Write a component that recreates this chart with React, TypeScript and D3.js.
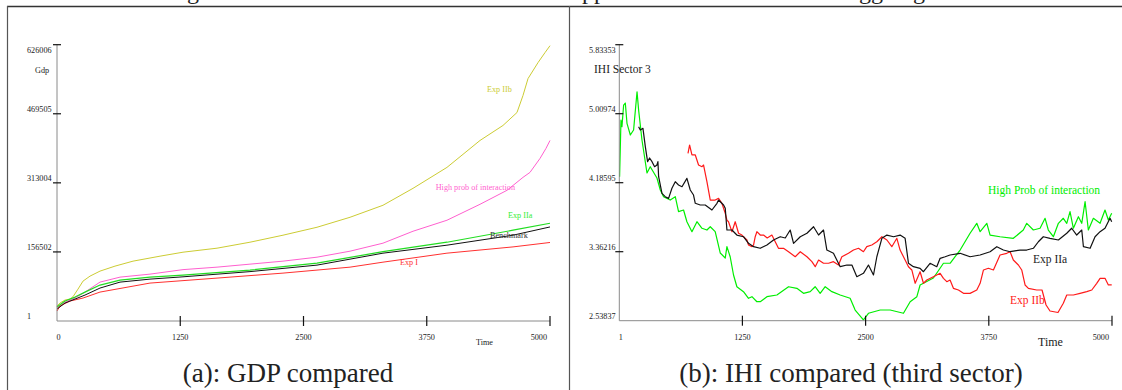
import React from 'react';
import * as d3 from 'd3';

// ---------- Panel (a): GDP ----------
const gdpXTicks = [0, 1250, 2500, 3750, 5000];
const gdpXTickLabels = ['0', '1250', '2500', '3750', '5000'];
const gdpYTicks = [1, 156502, 313004, 469505, 626006];
const gdpYTickLabels = ['1', '156502', '313004', '469505', '626006'];

const gdpExpIIb: [number, number][] = [
  [0, 33900], [30, 40700], [81, 47500], [132, 49700], [162, 54900], [213, 72300], [264, 90400],
  [335, 101700], [436, 113000], [588, 124300], [771, 135600], [1045, 146900], [1278, 155900],
  [1623, 165000], [1957, 178500], [2292, 194400], [2637, 212400], [2972, 235000], [3306, 262200],
  [3611, 300600], [3955, 348000], [4290, 409000], [4523, 443000], [4665, 472300], [4726, 510800],
  [4777, 549200], [4878, 585300], [4949, 608000], [5000, 623800],
];
const gdpHighProb: [number, number][] = [
  [0, 29400], [81, 42900], [183, 52000], [284, 65500], [436, 88100], [639, 99400], [943, 106200],
  [1278, 116400], [1623, 122000], [1957, 128800], [2292, 135600], [2637, 144600], [2972, 158200],
  [3306, 176300], [3611, 203400], [3955, 228300], [4290, 264400], [4564, 296100], [4726, 325400],
  [4797, 336700], [4899, 368400], [4959, 391000], [5000, 409000],
];
const gdpExpIIa: [number, number][] = [
  [0, 31600], [81, 45200], [183, 54200], [284, 65500], [436, 81400], [639, 92700], [943, 99400],
  [1278, 104000], [1957, 115300], [2637, 131100], [3306, 157100], [3955, 178500], [4625, 205700],
  [5000, 221500],
];
const gdpBenchmark: [number, number][] = [
  [0, 27100], [81, 40700], [183, 49700], [284, 58800], [436, 74600], [639, 88100], [943, 94900],
  [1278, 100100], [1957, 111900], [2637, 126600], [3306, 153700], [3955, 171800], [4625, 194400],
  [5000, 213100],
];
const gdpExpI: [number, number][] = [
  [0, 22600], [30, 33900], [132, 45200], [264, 52000], [436, 65500], [943, 85900], [1623, 97200],
  [2292, 108500], [2972, 122000], [3306, 133300], [3955, 153700], [4625, 167900], [5000, 177900],
];

// ---------- Panel (b): IHI sector 3 ----------
const ihiXTicks = [1, 1250, 2500, 3750, 5000];
const ihiXTickLabels = ['1', '1250', '2500', '3750', '5000'];
const ihiYTicks = [2.53837, 3.36216, 4.18595, 5.00974, 5.83353];
const ihiYTickLabels = ['2.53837', '3.36216', '4.18595', '5.00974', '5.83353'];

const ihiHighProb: [number, number][] = [
  [4, 4.258], [18, 4.934], [28, 4.855], [45, 5.113], [62, 5.137], [79, 4.895], [113, 4.755],
  [146, 4.815], [181, 5.272], [197, 5.054], [231, 4.696], [282, 4.302], [315, 4.377], [383, 4.242],
  [417, 4.099], [450, 4.019], [518, 3.979], [569, 4.019], [602, 3.84], [653, 3.86], [687, 3.72],
  [738, 3.601], [789, 3.72], [840, 3.642], [890, 3.621], [924, 3.66], [974, 3.601], [1025, 3.347],
  [1076, 3.287], [1093, 3.422], [1126, 3.302], [1160, 3.084], [1194, 2.944], [1261, 2.885],
  [1312, 2.806], [1347, 2.825], [1397, 2.765], [1431, 2.765], [1499, 2.825], [1600, 2.845],
  [1718, 2.944], [1803, 2.925], [1870, 2.865], [1938, 2.885], [1988, 2.944], [2039, 2.865],
  [2090, 2.944], [2158, 2.885], [2242, 2.845], [2343, 2.806], [2394, 2.666], [2478, 2.547],
  [2529, 2.627], [2648, 2.666], [2749, 2.666], [2884, 2.627], [2952, 2.765], [3020, 2.825],
  [3053, 2.965], [3188, 3.048], [3290, 3.224], [3357, 3.224], [3459, 3.382], [3560, 3.582],
  [3628, 3.701], [3662, 3.601], [3730, 3.701], [3763, 3.561], [3864, 3.541], [3999, 3.522],
  [4100, 3.621], [4135, 3.701], [4202, 3.621], [4270, 3.642], [4321, 3.761], [4354, 3.621],
  [4405, 3.541], [4456, 3.701], [4506, 3.761], [4541, 3.701], [4574, 3.84], [4608, 3.642],
  [4659, 3.78], [4693, 3.701], [4727, 3.959], [4760, 3.621], [4811, 3.761], [4879, 3.701],
  [4929, 3.86], [4963, 3.74], [4997, 3.82],
];
const ihiExpIIa: [number, number][] = [
  [197, 4.855], [214, 4.815], [241, 4.835], [265, 4.616], [288, 4.437], [308, 4.481], [333, 4.437],
  [359, 4.377], [383, 4.397], [393, 4.437], [400, 4.258], [434, 4.059], [467, 4.019], [501, 3.999],
  [535, 4.119], [569, 4.198], [602, 4.158], [637, 4.138], [687, 4.238], [721, 4.099], [754, 4.039],
  [772, 3.94], [822, 3.92], [873, 3.92], [941, 3.86], [992, 3.94], [1008, 3.979], [1059, 3.92],
  [1076, 3.88], [1093, 3.621], [1144, 3.621], [1194, 3.561], [1261, 3.541], [1312, 3.462],
  [1363, 3.422], [1431, 3.403], [1499, 3.442], [1566, 3.502], [1634, 3.541], [1685, 3.526],
  [1735, 3.621], [1769, 3.462], [1837, 3.541], [1905, 3.582], [1972, 3.66], [2023, 3.561],
  [2073, 3.621], [2107, 3.382], [2174, 3.343], [2242, 3.183], [2310, 3.203], [2361, 3.203],
  [2411, 3.064], [2478, 3.104], [2529, 3.203], [2580, 3.084], [2614, 3.302], [2665, 3.522],
  [2716, 3.561], [2784, 3.541], [2850, 3.561], [2901, 3.522], [2935, 3.224], [2985, 3.183],
  [3053, 3.164], [3087, 3.123], [3154, 3.224], [3222, 3.183], [3256, 3.283], [3307, 3.302],
  [3357, 3.323], [3459, 3.343], [3560, 3.302], [3662, 3.323], [3763, 3.362], [3831, 3.422],
  [3898, 3.382], [3966, 3.362], [4067, 3.382], [4135, 3.382], [4202, 3.403], [4253, 3.481],
  [4303, 3.541], [4371, 3.522], [4456, 3.502], [4541, 3.582], [4591, 3.642], [4642, 3.561],
  [4693, 3.621], [4710, 3.422], [4778, 3.403], [4828, 3.541], [4879, 3.601], [4929, 3.642],
  [4980, 3.761], [4997, 3.72],
];
const ihiExpIIb: [number, number][] = [
  [698, 4.537], [714, 4.636], [738, 4.517], [772, 4.517], [805, 4.397], [840, 4.377], [856, 4.397],
  [890, 4.198], [924, 3.979], [974, 3.979], [1008, 3.999], [1042, 3.94], [1076, 3.82], [1093, 3.74],
  [1109, 3.72], [1144, 3.601], [1177, 3.72], [1211, 3.582], [1245, 3.561], [1261, 3.541],
  [1296, 3.502], [1312, 3.442], [1347, 3.422], [1363, 3.442], [1380, 3.541], [1397, 3.601],
  [1431, 3.561], [1464, 3.561], [1502, 3.526], [1549, 3.561], [1583, 3.481], [1616, 3.403],
  [1667, 3.403], [1718, 3.362], [1786, 3.302], [1837, 3.362], [1905, 3.302], [1955, 3.243],
  [1989, 3.183], [2023, 3.263], [2073, 3.224], [2124, 3.224], [2174, 3.243], [2225, 3.203],
  [2259, 3.302], [2326, 3.343], [2377, 3.382], [2428, 3.403], [2478, 3.362], [2512, 3.422],
  [2563, 3.442], [2614, 3.481], [2665, 3.541], [2716, 3.502], [2766, 3.422], [2817, 3.522],
  [2850, 3.382], [2901, 3.263], [2935, 3.183], [2969, 3.144], [3003, 2.985], [3053, 3.123],
  [3087, 2.985], [3121, 3.024], [3188, 3.064], [3256, 3.104], [3290, 3.044], [3324, 3.004],
  [3357, 3.024], [3391, 2.925], [3442, 2.905], [3493, 2.865], [3560, 2.865], [3628, 2.905],
  [3662, 2.985], [3696, 3.144], [3746, 3.164], [3797, 3.144], [3864, 3.323], [3932, 3.343],
  [3966, 3.362], [3999, 3.263], [4050, 3.203], [4084, 3.144], [4118, 2.965], [4152, 2.925],
  [4236, 2.905], [4290, 2.905], [4331, 2.726], [4371, 2.654], [4452, 2.636], [4506, 2.746],
  [4541, 2.845], [4608, 2.845], [4676, 2.865], [4744, 2.885], [4795, 2.905], [4845, 2.985],
  [4879, 3.044], [4929, 3.044], [4963, 2.965], [4997, 2.965],
];

const SERIF = '"Liberation Serif", "Times New Roman", serif';

type Series = { data: [number, number][]; color: string; width: number };

function Panel(props: {
  x: d3.ScaleLinear<number, number>;
  y: d3.ScaleLinear<number, number>;
  xTicks: number[];
  xTickLabels: string[];
  yTicks: number[];
  yTickLabels: string[];
  series: Series[];
  yLabelX: number;
}) {
  const { x, y, xTicks, xTickLabels, yTicks, yTickLabels, series, yLabelX } = props;
  const [x0, x1] = x.range();
  const [yb, yt] = y.range();
  const line = d3
    .line<[number, number]>()
    .x((d) => x(d[0]))
    .y((d) => y(d[1]));
  return (
    <g>
      {series.map((s, i) => (
        <path key={i} d={line(s.data) || ''} fill="none" stroke={s.color} strokeWidth={s.width} strokeLinejoin="round" />
      ))}
      <line x1={x0} x2={x0} y1={yt} y2={yb} stroke="#8a8a8a" strokeWidth={1} />
      <line x1={x0} x2={x1} y1={yb} y2={yb} stroke="#8a8a8a" strokeWidth={1} />
      {yTicks.map((v, i) => {
        const yy = y(v);
        const top = i === yTicks.length - 1;
        return (
          <g key={'y' + i}>
            {i > 0 && <line x1={x0 - 4} x2={x0 + 4} y1={yy} y2={yy} stroke="#111" strokeWidth={1.2} />}
            <text x={yLabelX} y={top ? yy + 8.5 : yy - 2} textAnchor="start" fontFamily={SERIF} fontSize={8.2} fill="#222">
              {yTickLabels[i]}
            </text>
          </g>
        );
      })}
      {xTicks.map((v, i) => {
        const xx = x(v);
        const last = i === xTicks.length - 1;
        const first = i === 0;
        return (
          <g key={'x' + i}>
            {!first && <line x1={xx} x2={xx} y1={yb - 5} y2={yb + 5} stroke="#111" strokeWidth={1.2} />}
            <text
              x={first ? xx + 1.5 : last ? xx - 3 : xx}
              y={340}
              textAnchor={last ? 'end' : 'middle'}
              fontFamily={SERIF}
              fontSize={8.2}
              fill="#222"
            >
              {xTickLabels[i]}
            </text>
          </g>
        );
      })}
    </g>
  );
}

export default function App() {
  const xL = d3.scaleLinear().domain([0, 5000]).range([57, 550]);
  const yL = d3.scaleLinear().domain([1, 626006]).range([321, 44.7]);
  const xR = d3.scaleLinear().domain([1, 5000]).range([619.3, 1112]);
  const yR = d3.scaleLinear().domain([2.53837, 5.83353]).range([320.7, 44.7]);

  return (
    <svg width={1122} height={390} style={{ position: 'absolute', left: 0, top: 0, background: '#fff' }}>
      <rect x={0} y={0} width={1122} height={390} fill="#fff" />
      {/* clipped previous line of text */}
      <g fontFamily={SERIF} fontSize={24} fill="#222">
        <text x={187} y={-1.5}>g</text>
        <text x={582} y={-1.5}>pp</text>
        <text x={859} y={-1.5}>gg</text>
        <text x={913} y={-1.5}>g</text>
      </g>
      {/* frame */}
      <line x1={7} x2={1122} y1={6.5} y2={6.5} stroke="#333" strokeWidth={1.5} />
      <line x1={7.5} x2={7.5} y1={6} y2={390} stroke="#555" strokeWidth={1.2} />
      <line x1={569.5} x2={569.5} y1={6} y2={390} stroke="#555" strokeWidth={1.2} />

      {/* Panel a */}
      <Panel
        x={xL}
        y={yL}
        xTicks={gdpXTicks}
        xTickLabels={gdpXTickLabels}
        yTicks={gdpYTicks}
        yTickLabels={gdpYTickLabels}
        yLabelX={27}
        series={[
          { data: gdpExpIIb, color: '#cccc33', width: 1 },
          { data: gdpHighProb, color: '#ff5fcf', width: 1 },
          { data: gdpExpI, color: '#ff3030', width: 1 },
          { data: gdpExpIIa, color: '#22dd22', width: 1.2 },
          { data: gdpBenchmark, color: '#111', width: 1 },
        ]}
      />
      <g fontFamily={SERIF} fontSize={8.2}>
        <text x={35} y={72.5} fill="#222">Gdp</text>
        <text x={476} y={345} fill="#222">Time</text>
        <text x={487} y={92} fill="#cccc33">Exp IIb</text>
        <text x={435.7} y={190} fill="#ff5fcf">High prob of interaction</text>
        <text x={508} y={218} fill="#33ee33">Exp IIa</text>
        <text x={490} y={238} fill="#333">Benchmark</text>
        <text x={400} y={265} fill="#ff3030">Exp I</text>
      </g>

      {/* Panel b */}
      <Panel
        x={xR}
        y={yR}
        xTicks={ihiXTicks}
        xTickLabels={ihiXTickLabels}
        yTicks={ihiYTicks}
        yTickLabels={ihiYTickLabels}
        yLabelX={589}
        series={[
          { data: ihiHighProb, color: '#00ee00', width: 1.2 },
          { data: ihiExpIIb, color: '#ff1a1a', width: 1.2 },
          { data: ihiExpIIa, color: '#111', width: 1.2 },
        ]}
      />
      <g fontFamily={SERIF} fontSize={11.5}>
        <text x={594} y={73} fill="#222">IHI Sector 3</text>
        <text x={1038} y={346} fontSize={12} fill="#222">Time</text>
        <text x={988} y={194} fill="#00ee00">High Prob of interaction</text>
        <text x={1033} y={262.5} fill="#222">Exp IIa</text>
        <text x={1010} y={304} fill="#ff1a1a">Exp IIb</text>
      </g>

      {/* captions */}
      <text x={288} y={382} textAnchor="middle" fontFamily={SERIF} fontSize={27} fill="#222">
        (a): GDP compared
      </text>
      <text x={851} y={382} textAnchor="middle" fontFamily={SERIF} fontSize={27} fill="#222">
        (b): IHI compared (third sector)
      </text>
    </svg>
  );
}
